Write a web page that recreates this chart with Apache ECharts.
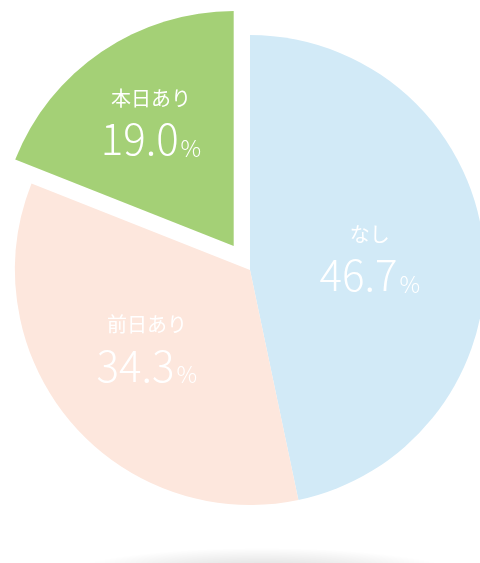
<!DOCTYPE html>
<html lang="ja">
<head>
<meta charset="UTF-8">
<title>pie</title>
<script src="https://cdn.jsdelivr.net/npm/echarts@6.0.0/dist/echarts.min.js"></script>
</head>
<body style="margin:0;background:#fff">
<div id="container" style="width:480px;height:563px"></div>
<script>
// データ
var names = ['なし', '前日あり', '本日あり'];
var values = [46.7, 34.3, 19.0];
var colors = ['#d2eaf7', '#fde7dd', '#a4d076'];

var chart = echarts.init(document.getElementById('container'));

// ラベル位置の微調整（padding で中心をずらす）
var labelPads = [[0, 0, 0, 0], [0, 22, 0, 0], [0, 30, 50, 0]];

var data = names.map(function (n, i) {
    return {
        name: n,
        value: values[i],
        selected: i === 2,
        itemStyle: { color: colors[i] },
        label: { padding: labelPads[i] }
    };
});

var option = {
    animation: false,
    graphic: [{
        type: 'circle',
        x: 262,
        y: 580,
        scaleX: 6.5,
        shape: { cx: 0, cy: 0, r: 32 },
        style: {
            fill: {
                type: 'radial', x: 0.5, y: 0.5, r: 0.5,
                colorStops: [
                    { offset: 0, color: 'rgba(0,0,0,0.2)' },
                    { offset: 0.5, color: 'rgba(0,0,0,0.1)' },
                    { offset: 1, color: 'rgba(0,0,0,0)' }
                ]
            }
        },
        z: -1
    }],
    series: [{
        type: 'pie',
        center: [250, 270],
        radius: [0, 235],
        startAngle: 90,
        clockwise: true,
        selectedMode: 'single',
        selectedOffset: 29,
        silent: true,
        label: {
            position: 'inside',
            color: '#fff',
            fontFamily: 'Noto Sans CJK JP',
            formatter: function (p) {
                return '{n|' + p.name + '}\n{v|' + p.value.toFixed(1) + '}{p|%}';
            },
            rich: {
                n: { fontSize: 20, color: '#fff', fontFamily: 'Noto Sans CJK JP', lineHeight: 36 },
                v: { fontSize: 42, color: '#fff', fontFamily: 'Noto Sans CJK JP', fontWeight: 300, lineHeight: 46 },
                p: { fontSize: 23, color: '#fff', fontFamily: 'Noto Sans CJK JP', fontWeight: 300, verticalAlign: 'bottom', padding: [0, 0, 3, 2] }
            }
        },
        labelLine: { show: false },
        itemStyle: { borderWidth: 0 },
        data: data
    }]
};
chart.setOption(option);
</script>
</body>
</html>
